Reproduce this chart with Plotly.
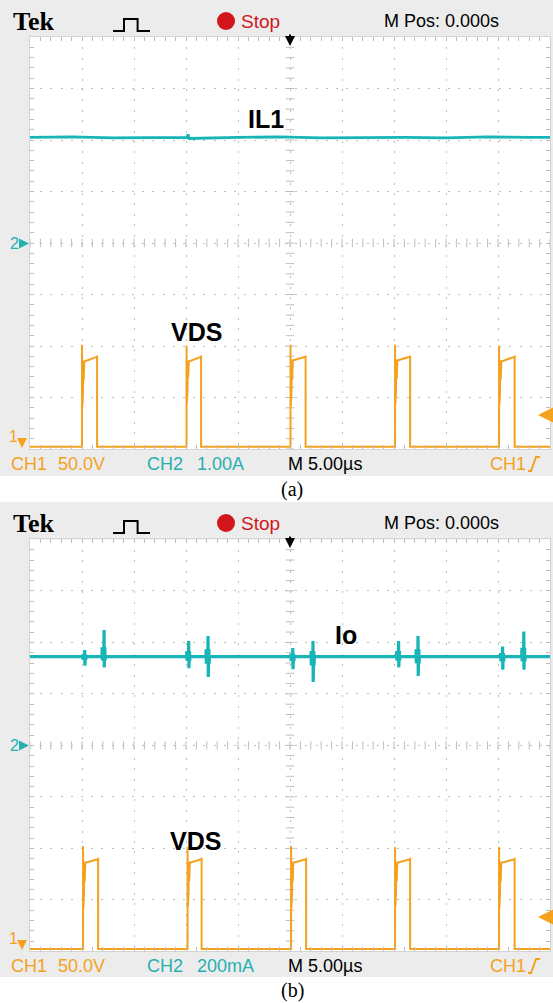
import numpy as np
import plotly.graph_objects as go

W, H = 553, 1003

# ------------------------------------------------------------------ data
time_range_us = [-25, 25]            # 5 us/div, 10 divisions

# panel (a)  CH1 = VDS (50 V/div), CH2 = IL1 (1 A/div)
a_rise_us = [-20.0, -9.95, 0.05, 10.1, 20.1]
a_fall_us = [-18.55, -8.55, 1.5, 11.55, 21.6]
a_spike_v = [99, 98, 99, 99, 98]
a_plat_start_v = [83, 83, 84, 84, 83]
a_plat_end_v = [87, 87, 87, 87, 87]
a_ring_low_v = [39, 42, 40, 41, 40]
a_il1_t_us = [-25, -21, -17, -13, -9.9, -9.8, -9.7, -5, -1, 3, 7, 11, 15, 19, 23, 25]
a_il1_a = [2.05, 2.06, 2.04, 2.05, 2.05, 2.11, 2.03, 2.05, 2.06, 2.04, 2.05, 2.05, 2.04, 2.06, 2.05, 2.05]

# panel (b)  CH1 = VDS (50 V/div), CH2 = Io (200 mA/div)
b_rise_us = [-19.9, -9.85, 0.1, 10.1, 20.1]
b_fall_us = [-18.45, -8.5, 1.55, 11.55, 21.6]
b_spike_v = [100, 99, 100, 99, 99]
b_plat_start_v = [84, 84, 84, 84, 84]
b_plat_end_v = [87, 87, 87, 87, 87]
b_ring_low_v = [40, 41, 40, 41, 40]
b_io_base_ma = 345
b_io_spike_t_us = [-19.74, -17.88, -9.74, -7.88, 0.27, 2.21, 10.44, 12.31, 20.44, 22.48]
b_io_spike_hi_ma = [370, 448, 405, 425, 378, 405, 405, 425, 384, 442]
b_io_spike_lo_ma = [310, 303, 300, 266, 296, 246, 303, 270, 294, 294]

# CH1 ground sits 3.955 div below centre -> axis range in volts
ch1_range_v = [(-4 + 3.955) * 50, (4 + 3.955) * 50]

ORANGE = "#f4a21e"
TEAL = "#17b5b5"
TEAL_TXT = "#26b0b0"
RED = "#d2161b"
GRAY_BG = "#ececec"
GRID = "#bdbdbd"
UI_FONT = "Liberation Sans, Arial, sans-serif"


def vds_wave(rise, fall, spike, p0, p1, ring):
    t, v = [time_range_us[0]], [0]
    for r, f, s, a, b, lo in zip(rise, fall, spike, p0, p1, ring):
        t += [r, r, r + 0.03, r + 0.06, r + 0.09, r + 0.12, r + 0.16, r + 0.22, r + 0.3, f - 0.1, f, f]
        v += [0, s, lo, a + 1, lo + 12, a, lo + 25, a, a, b, b + 0.5, 0]
    t.append(time_range_us[1])
    v.append(0)
    return t, v


def io_wave(base, ts, his, los):
    t, v = [time_range_us[0]], [base]
    for s, hi, lo in zip(ts, his, los):
        mid_hi = base + (hi - base) * 0.35
        mid_lo = base - (base - lo) * 0.35
        t += [s - 0.2, s - 0.18, s - 0.16, s - 0.02, s, s + 0.02, s + 0.08, s + 0.1, s + 0.14]
        v += [base, mid_hi, mid_lo, base, hi, lo, mid_hi, mid_lo, base]
    t.append(time_range_us[1])
    v.append(base)
    return t, v


def px(x):
    return x / W


def py(y):
    return 1 - y / H


PANELS = [
    dict(top=0, gtop=37, gbot=449, gray_bot=476, off=0),
    dict(top=502, gtop=539.4, gbot=951.4, gray_bot=977, off=502),
]
GL, GR = 30, 550

fig = go.Figure()

ta, va = vds_wave(a_rise_us, a_fall_us, a_spike_v, a_plat_start_v, a_plat_end_v, a_ring_low_v)
tb, vb = vds_wave(b_rise_us, b_fall_us, b_spike_v, b_plat_start_v, b_plat_end_v, b_ring_low_v)
ti, vi = io_wave(b_io_base_ma, b_io_spike_t_us, b_io_spike_hi_ma, b_io_spike_lo_ma)

# graticule centre ticks (decoration)
cx = np.arange(-25, 25.001, 1.0)
cy = np.arange(-4, 4.001, 0.2)
cy2 = np.arange(-800, 800.1, 40)
for xa, ya, yy in [("x", "y", cy), ("x2", "y2", cy2)]:
    fig.add_trace(go.Scatter(x=cx, y=np.zeros_like(cx), xaxis=xa, yaxis=ya, mode="markers",
                             marker=dict(symbol="line-ns", size=6, line=dict(width=1, color=GRID)),
                             hoverinfo="skip", showlegend=False))
    fig.add_trace(go.Scatter(x=np.zeros_like(yy), y=yy, xaxis=xa, yaxis=ya, mode="markers",
                             marker=dict(symbol="line-ew", size=6, line=dict(width=1, color=GRID)),
                             hoverinfo="skip", showlegend=False))

fig.add_trace(go.Scatter(x=a_il1_t_us, y=a_il1_a, xaxis="x", yaxis="y", mode="lines",
                         line=dict(color=TEAL, width=2.8), showlegend=False))
fig.add_trace(go.Scatter(x=ta, y=va, xaxis="x", yaxis="y3", mode="lines",
                         line=dict(color=ORANGE, width=2), showlegend=False))
fig.add_trace(go.Scatter(x=ti, y=vi, xaxis="x2", yaxis="y2", mode="lines",
                         line=dict(color=TEAL, width=3.2), showlegend=False))
fig.add_trace(go.Scatter(x=tb, y=vb, xaxis="x2", yaxis="y4", mode="lines",
                         line=dict(color=ORANGE, width=2), showlegend=False))


def xax(anchor, dom):
    return dict(domain=dom, anchor=anchor, range=time_range_us, dtick=5, showgrid=True,
                gridcolor=GRID, griddash="2px,8.4px", gridwidth=1, zeroline=False,
                showticklabels=False, ticks="inside", ticklen=4, tickcolor=GRID,
                minor=dict(dtick=1, ticks="inside", ticklen=4, tickcolor=GRID, showgrid=False),
                showline=True, linecolor="#d4d4d4", mirror="allticks", fixedrange=True)


def yax(anchor, dom, rng, dt):
    return dict(domain=dom, anchor=anchor, range=rng, dtick=dt, showgrid=True,
                gridcolor=GRID, griddash="2px,8.2px", gridwidth=1, zeroline=False,
                showticklabels=False, ticks="inside", ticklen=4, tickcolor=GRID,
                minor=dict(dtick=dt / 5, ticks="inside", ticklen=4, tickcolor=GRID, showgrid=False),
                showline=True, linecolor="#d4d4d4", mirror="allticks", fixedrange=True)


pa, pb = PANELS
xdom = [px(GL), px(GR)]
fig.update_layout(
    width=W, height=H, margin=dict(l=0, r=0, t=0, b=0),
    paper_bgcolor="white", plot_bgcolor="rgba(0,0,0,0)", showlegend=False,
    xaxis=xax("y", xdom),
    yaxis=yax("x", [py(pa["gbot"]), py(pa["gtop"])], [-4, 4], 1),
    xaxis2=xax("y2", xdom),
    yaxis2=yax("x2", [py(pb["gbot"]), py(pb["gtop"])], [-800, 800], 200),
    yaxis3=dict(overlaying="y", anchor="x", range=ch1_range_v, visible=False, fixedrange=True),
    yaxis4=dict(overlaying="y2", anchor="x2", range=ch1_range_v, visible=False, fixedrange=True),
)

shapes = []
ann = []
for i, p in enumerate(PANELS):
    o = p["off"]
    shapes.append(dict(type="rect", xref="paper", yref="paper", layer="below",
                       x0=0, x1=1, y0=py(p["gray_bot"]), y1=py(p["top"]),
                       fillcolor=GRAY_BG, line=dict(width=0)))
    shapes.append(dict(type="rect", xref="paper", yref="paper", layer="below",
                       x0=px(GL), x1=px(GR), y0=py(p["gbot"]), y1=py(p["gtop"]),
                       fillcolor="white", line=dict(width=0)))
    pts = [(113, 31), (124, 31), (124, 19), (137.6, 19), (137.6, 31), (150, 31)]
    path = "M " + " L ".join(f"{px(x):.5f},{py(y + o):.5f}" for x, y in pts)
    shapes.append(dict(type="path", xref="paper", yref="paper", path=path,
                       line=dict(color="black", width=2)))
    shapes.append(dict(type="circle", xref="paper", yref="paper",
                       x0=px(217), x1=px(235), y0=py(30 + o), y1=py(12 + o),
                       fillcolor=RED, line=dict(width=0)))
    fy = 464 + o
    spts = [(528, fy + 7), (531, fy + 7), (536, fy - 7), (540, fy - 7)]
    spath = "M " + " L ".join(f"{px(x):.5f},{py(y):.5f}" for x, y in spts)
    shapes.append(dict(type="path", xref="paper", yref="paper", path=spath,
                       line=dict(color=ORANGE, width=2)))

    ann.append(dict(text="<b>Tek</b>", x=px(11), y=py(21 + o), xref="paper", yref="paper",
                    xanchor="left", yanchor="middle", showarrow=False,
                    font=dict(family="Liberation Serif, DejaVu Serif, serif", size=26, color="black")))
    ann.append(dict(text="Stop", x=px(239), y=py(21 + o), xref="paper", yref="paper",
                    xanchor="left", yanchor="middle", showarrow=False,
                    font=dict(family=UI_FONT, size=19, color=RED)))
    ann.append(dict(text="M Pos: 0.000s", x=px(382), y=py(21 + o), xref="paper", yref="paper",
                    xanchor="left", yanchor="middle", showarrow=False,
                    font=dict(family=UI_FONT, size=18, color="black")))
    ch2_scale = "1.00A" if i == 0 else "200mA"
    for txt, x, col in [("CH1", 9, ORANGE), ("50.0V", 56, ORANGE), ("CH2", 145, TEAL_TXT),
                        (ch2_scale, 195, TEAL_TXT), ("M 5.00µs", 286, "black"), ("CH1", 488, ORANGE)]:
        ann.append(dict(text=txt, x=px(x), y=py(fy), xref="paper", yref="paper",
                        xanchor="left", yanchor="middle", showarrow=False,
                        font=dict(family=UI_FONT, size=18, color=col)))
    cap_y = 489 if i == 0 else 990
    ann.append(dict(text="(a)" if i == 0 else "(b)", x=px(292), y=py(cap_y), xref="paper", yref="paper",
                    xanchor="center", yanchor="middle", showarrow=False,
                    font=dict(family="Liberation Serif, Times New Roman, serif", size=20, color="black")))
    xr = "x" if i == 0 else "x2"
    ann.append(dict(text="", x=0, y=py(46 + o), xref=xr, yref="paper", ax=0, ay=-13,
                    showarrow=True, arrowhead=2, arrowsize=1, arrowwidth=2, arrowcolor="black"))
    ann.append(dict(text="", x=px(538), y=py(415 + o), xref="paper", yref="paper", ax=14, ay=0,
                    showarrow=True, arrowhead=2, arrowsize=1.2, arrowwidth=2.5, arrowcolor=ORANGE))
    ann.append(dict(text="2", x=px(14), y=py(243.5 + o), xref="paper", yref="paper",
                    xanchor="center", yanchor="middle", showarrow=False,
                    font=dict(family=UI_FONT, size=16, color=TEAL_TXT)))
    ann.append(dict(text="", x=px(29), y=py(243.5 + o), xref="paper", yref="paper", ax=-9, ay=0,
                    showarrow=True, arrowhead=2, arrowsize=1, arrowwidth=2, arrowcolor=TEAL_TXT))
    ann.append(dict(text="1", x=px(13), y=py(436 + o), xref="paper", yref="paper",
                    xanchor="center", yanchor="middle", showarrow=False,
                    font=dict(family=UI_FONT, size=16, color=ORANGE)))
    ann.append(dict(text="", x=px(22), y=py(448 + o), xref="paper", yref="paper", ax=0, ay=-9,
                    showarrow=True, arrowhead=2, arrowsize=1, arrowwidth=2, arrowcolor=ORANGE))

LBL = dict(family="Liberation Sans, Arial, sans-serif", size=25, color="black")
ann.append(dict(text="<b>IL1</b>", x=-2.3, y=2.41, xref="x", yref="y", showarrow=False, font=LBL))
ann.append(dict(text="<b>VDS</b>", x=-9.0, y=111, xref="x", yref="y3", showarrow=False, font=LBL))
ann.append(dict(text="<b>Io</b>", x=5.4, y=430, xref="x2", yref="y2", showarrow=False, font=LBL))
ann.append(dict(text="<b>VDS</b>", x=-9.1, y=105, xref="x2", yref="y4", showarrow=False, font=LBL))

fig.update_layout(shapes=shapes, annotations=ann)
fig.write_html("out.html", config={"displayModeBar": False},
               post_script="document.body.style.margin='0px';document.body.style.overflow='hidden';")
